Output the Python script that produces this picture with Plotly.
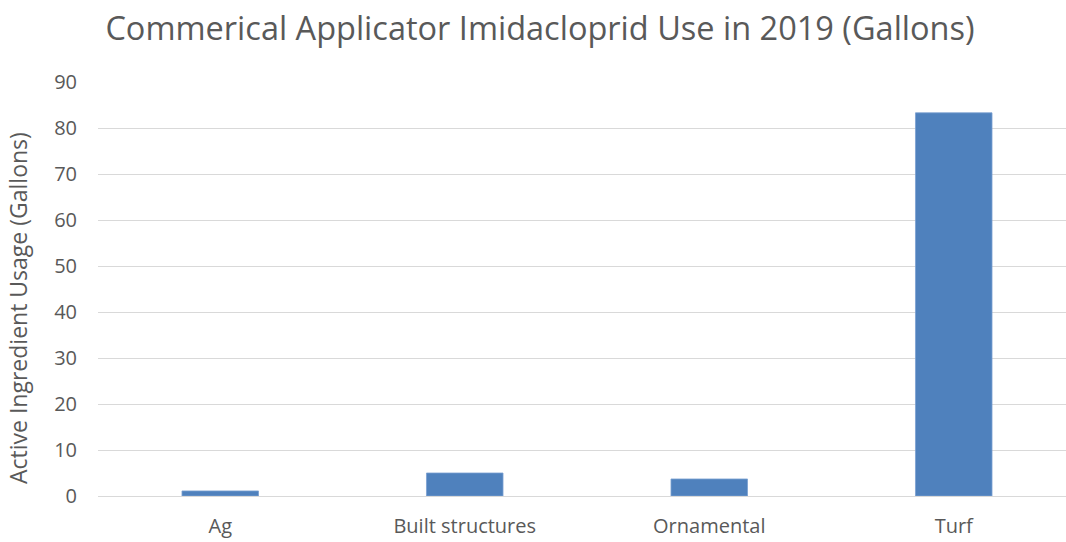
import plotly.graph_objects as go

categories = ["Ag", "Built structures", "Ornamental", "Turf"]
values = [1.1, 5.0, 3.7, 83.3]
y_ticks = [0, 10, 20, 30, 40, 50, 60, 70, 80, 90]

title_text = "Commerical Applicator Imidacloprid Use in 2019 (Gallons)"
y_title = "Active Ingredient Usage (Gallons)"

gray = "#595959"
font_family = "Open Sans, Liberation Sans, sans-serif"

W, H = 1066, 542
L, R, T, B = 98, 0, 82, 46
plot_w = W - L - R
plot_h = H - T - B

fig = go.Figure(
    go.Bar(
        x=list(range(len(categories))),
        y=values,
        width=0.313,
        marker=dict(color="#4F81BD", line=dict(color="#7A9FD0", width=0.8)),
    )
)

fig.update_layout(
    width=W,
    height=H,
    margin=dict(l=L, r=R, t=T, b=B),
    paper_bgcolor="white",
    plot_bgcolor="white",
    showlegend=False,
    font=dict(family=font_family, color=gray, size=20),
    title=dict(
        text=title_text,
        x=540 / W,
        xref="container",
        xanchor="center",
        y=1 - 29 / H,
        yref="container",
        yanchor="middle",
        font=dict(size=32.5, color=gray, family=font_family),
    ),
    xaxis=dict(
        tickmode="array",
        tickvals=list(range(len(categories))),
        ticktext=categories,
        range=[-0.5, 3.5 - 10 / 244.5],
        showgrid=False,
        showline=True,
        linecolor="#D9D9D9",
        linewidth=1,
        ticks="",
        zeroline=False,
        ticklabelstandoff=12,
        tickfont=dict(size=20, color=gray),
    ),
    yaxis=dict(
        range=[0, 90],
        tickmode="array",
        tickvals=y_ticks,
        showgrid=True,
        gridcolor="#D9D9D9",
        gridwidth=1,
        zeroline=False,
        showline=False,
        ticks="",
        ticklen=0,
        ticklabelstandoff=20,
        tickfont=dict(size=20, color=gray),
    ),
    annotations=[
        dict(
            text=y_title,
            xref="paper",
            yref="paper",
            x=-(L - 18) / plot_w,
            y=0.5 - 19 / plot_h,
            xanchor="center",
            yanchor="middle",
            textangle=-90,
            showarrow=False,
            font=dict(size=23, color=gray, family=font_family),
        )
    ],
)

fig.write_html(
    "out.html",
    config={"displayModeBar": False},
    post_script="document.body.style.margin='0';document.body.style.overflow='hidden';",
)
